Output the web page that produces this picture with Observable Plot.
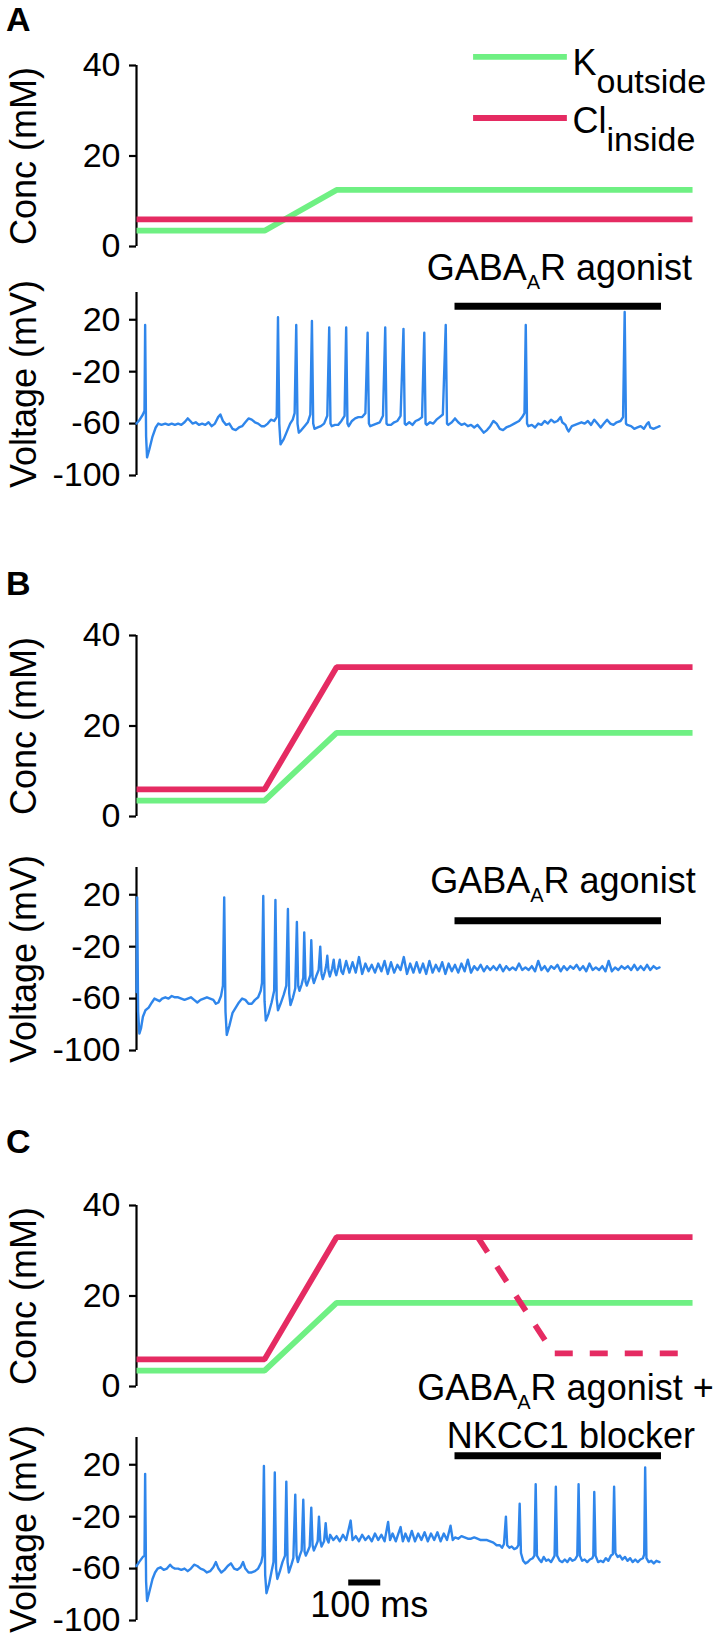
<!DOCTYPE html>
<html>
<head>
<meta charset="utf-8">
<script src="https://cdn.jsdelivr.net/npm/d3@7"></script>
<script src="https://cdn.jsdelivr.net/npm/@observablehq/plot@0.6"></script>
<style>
  html, body { margin: 0; padding: 0; background: #fff; }
  #fig { position: relative; width: 720px; height: 1638px; overflow: hidden; background: #fff; }
  #fig .panel { position: absolute; left: 0; }
  #fig svg { overflow: visible; }
  #fig g[aria-label^="y-axis"] * { stroke-width: 2.2px; }
</style>
</head>
<body>
<div id="fig"></div>
<script>
// ---------------- data ----------------
const timeDomain = [0, 1740];            // ms
const concTicks = [0, 20, 40];
const voltTicks = [-100, -60, -20, 20];

const concTimes = [0, 400, 625, 1737];
const kA  = [3.5, 3.5, 12.5, 12.5];
const clA = [6, 6, 6, 6];
const kB  = [3.5, 3.5, 18.5, 18.5];
const clB = [6, 6, 33, 33];
const kC  = [3.5, 3.5, 18.5, 18.5];
const clC = [6, 6, 33, 33];
const clBlockTimes = [1066, 1303, 1706];
const clBlock = [33, 7.3, 7.3];

const drugBar = [995, 1640];             // ms
const drugBarLevel = [30.5, 0, 27];      // mV, panels A B C
const scaleBarMs = [663, 763];

const legendNames = ["K~outside~", "Cl~inside~"];
const drugLabels = ["GABA~A~R agonist", "GABA~A~R agonist", "GABA~A~R agonist +", "NKCC1 blocker"];

const traceA = [
[0,-60],[10,-57],[20,-53],[25,-50],[27,16],[30,-70],[33,-86],[40,-80],[50,-70],[60,-63],[68,-60],[78,-61],[90,-60],[100,-61],[110,-60],[120,-61],[130,-60],[140,-61],[150,-59],[160,-56],[168,-58],[175,-60],[185,-59],[195,-61],[205,-60],[215,-61],[225,-59],[235,-62],[245,-60],[255,-55],[262,-53],[270,-58],[280,-61],[290,-60],[300,-64],[310,-65],[320,-63],[330,-62],[340,-59],[350,-56],[360,-57],[370,-59],[380,-60],[390,-62],[400,-62],[410,-60],[420,-57],[430,-58],[438,-55],[442,22],[446,-60],[450,-76],[460,-72],[470,-66],[480,-60],[488,-57],[494,-52],[499,16],[503,-60],[507,-67],[515,-65],[525,-62],[535,-59],[543,-53],[548,19],[552,-60],[556,-64],[566,-63],[576,-62],[586,-60],[596,-54],[602,14],[606,-60],[610,-62],[620,-61],[630,-61],[640,-58],[650,-54],[655,14],[659,-60],[663,-62],[673,-58],[683,-56],[693,-55],[705,-55],[715,-52],[722,10],[726,-60],[730,-62],[740,-61],[750,-60],[760,-59],[770,-54],[777,14],[781,-60],[785,-61],[795,-61],[805,-59],[815,-58],[825,-54],[834,13],[838,-60],[842,-61],[852,-59],[862,-61],[872,-58],[882,-57],[892,-55],[899,10],[903,-60],[907,-61],[917,-59],[927,-60],[937,-57],[947,-55],[957,-53],[966,16],[970,-60],[974,-61],[985,-59],[995,-56],[1005,-59],[1015,-61],[1025,-60],[1035,-62],[1045,-61],[1055,-63],[1065,-61],[1075,-64],[1085,-67],[1095,-65],[1105,-62],[1115,-58],[1125,-60],[1135,-64],[1145,-65],[1155,-63],[1165,-62],[1180,-60],[1195,-58],[1205,-55],[1212,-52],[1216,16],[1220,-60],[1224,-62],[1235,-61],[1245,-63],[1255,-60],[1265,-61],[1275,-58],[1285,-60],[1295,-57],[1305,-59],[1315,-58],[1325,-55],[1330,-59],[1340,-61],[1345,-64],[1350,-66],[1360,-62],[1370,-61],[1380,-60],[1390,-59],[1400,-60],[1410,-58],[1420,-61],[1430,-57],[1440,-60],[1450,-63],[1460,-60],[1470,-57],[1480,-60],[1490,-61],[1500,-59],[1512,-58],[1520,-55],[1525,26],[1529,-60],[1533,-61],[1545,-62],[1555,-64],[1565,-63],[1575,-62],[1585,-64],[1595,-60],[1600,-59],[1605,-63],[1615,-64],[1625,-63],[1634,-62]
];

const traceB = [
[0,-55],[2,18],[5,-70],[9,-87],[14,-83],[20,-74],[28,-69],[38,-67],[48,-63],[56,-60],[64,-61],[72,-62],[80,-60],[90,-59],[100,-60],[110,-58],[120,-59],[130,-59],[140,-60],[150,-61],[160,-60],[170,-59],[180,-61],[190,-63],[200,-61],[210,-60],[220,-59],[230,-60],[240,-61],[248,-64],[256,-63],[264,-58],[270,-50],[274,18],[278,-70],[282,-88],[290,-81],[300,-71],[310,-67],[320,-63],[330,-60],[340,-61],[350,-64],[360,-64],[370,-61],[380,-59],[388,-54],[392,-48],[396,19],[400,-62],[404,-77],[412,-72],[422,-63],[430,-54],[434,16],[438,-60],[442,-69],[450,-64],[460,-57],[468,-50],[473,9],[477,-56],[481,-65],[489,-59],[496,-52],[501,-1],[505,-50],[509,-54],[516,-49],[521,-44],[524,-9],[528,-47],[532,-50],[539,-45],[543,-42],[546,-15],[550,-44],[554,-48],[561,-43],[569,-38],[574,-20],[578,-41],[582,-45],[589,-39],[593,-34],[596,-27],[600,-39],[604,-43],[611,-37],[616,-30],[620,-39],[624,-42],[630,-36],[635,-30],[640,-39],[645,-41],
[655,-31],[665,-40],[675,-32],[685,-40],[695,-28],[705,-41],[715,-33],[725,-39],[735,-34],[745,-40],[755,-33],[765,-39],[775,-31],[785,-41],[795,-32],[805,-40],[815,-34],[825,-38],[835,-28],[845,-41],[855,-33],[865,-40],[875,-32],[885,-40],[895,-33],[905,-41],[915,-31],[925,-40],[935,-34],[945,-39],[955,-32],[965,-41],[975,-33],[985,-39],[995,-34],[1005,-40],[1015,-33],[1025,-39],[1035,-30],[1045,-40],[1055,-35],[1065,-38],[1075,-34],[1085,-39],[1095,-35],[1105,-38],[1115,-35],[1125,-38],[1135,-34],[1145,-39],[1155,-35],[1165,-38],[1175,-36],[1185,-38],[1195,-33],[1205,-38],[1215,-36],[1225,-38],[1235,-35],[1245,-39],[1255,-31],[1265,-38],[1275,-35],[1285,-39],[1295,-35],[1305,-37],[1315,-34],[1325,-39],[1335,-35],[1345,-38],[1355,-35],[1365,-37],[1375,-34],[1385,-38],[1395,-35],[1405,-39],[1415,-33],[1425,-38],[1435,-36],[1445,-38],[1455,-35],[1465,-39],[1475,-31],[1485,-39],[1495,-36],[1505,-38],[1515,-35],[1525,-37],[1535,-35],[1545,-38],[1555,-34],[1565,-38],[1575,-35],[1585,-38],[1595,-34],[1605,-38],[1615,-35],[1625,-37],[1634,-36]
];

const traceC = [
[0,-58],[8,-55],[20,-51],[25,-50],[27,13],[30,-70],[33,-85],[40,-78],[50,-68],[58,-63],[66,-60],[75,-59],[85,-61],[95,-60],[105,-57],[112,-59],[120,-60],[130,-60],[140,-61],[150,-60],[160,-62],[170,-60],[180,-57],[190,-58],[200,-60],[210,-61],[220,-63],[230,-62],[240,-59],[248,-55],[256,-60],[265,-63],[275,-61],[285,-58],[295,-56],[305,-60],[315,-61],[325,-59],[333,-55],[340,-60],[350,-63],[360,-63],[370,-62],[380,-60],[390,-55],[394,-50],[398,19],[402,-65],[406,-79],[414,-72],[422,-62],[428,-55],[432,14],[436,-60],[440,-68],[448,-62],[456,-55],[464,-50],[468,7],[472,-55],[476,-63],[484,-57],[490,-52],[496,-3],[500,-50],[504,-55],[510,-50],[516,-46],[521,-7],[525,-47],[529,-50],[536,-46],[541,-43],[546,-13],[550,-42],[554,-46],[561,-42],[566,-39],[570,-20],[574,-38],[578,-43],[586,-39],[591,-25],[595,-37],[600,-40],
[605,-34],[615,-38],[625,-35],[635,-39],[645,-34],[655,-38],[669,-23],[675,-38],[685,-35],[695,-39],[705,-34],[715,-38],[725,-35],[735,-39],[745,-33],[755,-38],[765,-34],[775,-39],[786,-24],[792,-38],[800,-33],[810,-39],[818,-33],[825,-28],[832,-39],[840,-33],[850,-39],[860,-31],[870,-39],[880,-33],[890,-38],[900,-32],[910,-39],[920,-33],[930,-38],[940,-32],[950,-39],[960,-33],[970,-38],[981,-27],[988,-38],[995,-36],[1005,-37],[1015,-35],[1025,-36],[1035,-37],[1045,-37],[1055,-36],[1065,-37],[1075,-38],[1085,-38],[1095,-38],[1105,-39],[1115,-40],[1125,-42],[1135,-42],[1142,-44],[1148,-41],[1154,-20],[1158,-42],[1165,-44],[1172,-43],[1180,-45],[1188,-44],[1193,-42],[1197,-10],[1201,-48],[1208,-54],[1215,-56],[1222,-55],[1230,-53],[1238,-52],[1243,-50],[1247,5],[1251,-50],[1258,-53],[1265,-55],[1272,-51],[1280,-54],[1287,-53],[1295,-55],[1302,-52],[1306,-50],[1310,3],[1314,-50],[1322,-54],[1330,-55],[1338,-53],[1346,-55],[1354,-52],[1362,-54],[1370,-53],[1377,-50],[1381,5],[1385,-50],[1392,-54],[1400,-53],[1408,-55],[1416,-53],[1424,-52],[1427,-50],[1430,-1],[1434,-50],[1442,-55],[1450,-54],[1458,-55],[1466,-52],[1474,-54],[1482,-50],[1488,-49],[1492,3],[1496,-48],[1503,-51],[1510,-50],[1518,-53],[1526,-51],[1534,-54],[1542,-52],[1550,-55],[1558,-53],[1566,-55],[1574,-53],[1582,-52],[1586,-49],[1589,18],[1593,-52],[1600,-55],[1608,-54],[1616,-56],[1624,-54],[1634,-55]
];

// ---------------- drawing ----------------
const FONT = '"Liberation Sans", Arial, Helvetica, sans-serif';
const GREEN = "#6ff083", RED = "#e52b62", BLUE = "#2f86eb";
const fig = document.getElementById("fig");
const series = (ts, vs) => ts.map((t, i) => ({t, v: vs[i]}));
const baseStyle = {fontFamily: FONT, fontSize: "34px", color: "black", background: "transparent", overflow: "visible"};

function subscriptify(svg, size, shift) {
  svg.querySelectorAll("text").forEach(t => {
    const s = t.textContent;
    if (!s.includes("~")) return;
    const parts = s.split("~");
    t.textContent = "";
    parts.forEach((p, i) => {
      if (p === "" && i === parts.length - 1) return;
      const ts = document.createElementNS("http://www.w3.org/2000/svg", "tspan");
      ts.textContent = p;
      if (i % 2 === 1) { ts.setAttribute("dy", shift); ts.setAttribute("font-size", size); }
      else if (i > 0) ts.setAttribute("dy", -shift);
      t.appendChild(ts);
    });
  });
}

function place(svg, top, sub) {
  const d = document.createElement("div");
  d.className = "panel";
  d.style.top = top + "px";
  d.appendChild(svg);
  fig.appendChild(d);
  if (sub) subscriptify(svg, sub[0], sub[1]);
}

const lineOpts = {x: "t", y: "v", strokeWidth: 5.8, strokeLinecap: "butt", strokeLinejoin: "miter"};
const yLabel = (s) => Plot.text([s], {frameAnchor: "left", textAnchor: "middle", lineAnchor: "middle", dx: -112, rotate: -90, fontSize: 36});

function concPlot(k, cl, extra) {
  return Plot.plot({
    width: 720, height: 281, marginLeft: 136, marginRight: 27, marginTop: 80, marginBottom: 20,
    style: baseStyle,
    x: {domain: timeDomain, axis: null},
    y: {domain: [0, 40], ticks: concTicks, tickSize: 7, tickPadding: 9, tickFormat: d => String(d), label: null},
    marks: [
      Plot.ruleX([0], {y1: 0, y2: 40, strokeWidth: 2.2}),
      yLabel("Conc (mM)"),
      Plot.line(series(concTimes, k), {...lineOpts, stroke: GREEN}),
      Plot.line(series(concTimes, cl), {...lineOpts, stroke: RED}),
      ...extra
    ]
  });
}

function voltPlot(trace, barLevel, extra) {
  return Plot.plot({
    width: 720, height: 323, marginLeft: 136, marginRight: 27, marginTop: 110, marginBottom: 30,
    style: baseStyle,
    x: {domain: timeDomain, axis: null},
    y: {domain: [-100, 41], ticks: voltTicks, tickSize: 7, tickPadding: 9, tickFormat: d => String(d), label: null},
    marks: [
      Plot.ruleX([0], {y1: -100, y2: 41, strokeWidth: 2.2}),
      yLabel("Voltage (mV)"),
      Plot.line(trace, {x: d => d[0], y: d => d[1], stroke: BLUE, strokeWidth: 2.4, strokeLinejoin: "round"}),
      Plot.ruleY([barLevel], {x1: drugBar[0], x2: drugBar[1], strokeWidth: 7}),
      ...extra
    ]
  });
}

// Panel A
place(concPlot(kA, clA, [
  Plot.ruleY([41.9], {x1: 1053, x2: 1346, stroke: GREEN, strokeWidth: 5.8}),
  Plot.ruleY([28.4], {x1: 1053, x2: 1346, stroke: RED, strokeWidth: 5.8}),
  Plot.text([legendNames[0]], {x: 1362, y: 37.9, textAnchor: "start", lineAnchor: "bottom", fontSize: 36}),
  Plot.text([legendNames[1]], {x: 1362, y: 25.0, textAnchor: "start", lineAnchor: "bottom", fontSize: 36})
]), -14.6, [34, 18]);

place(voltPlot(traceA, drugBarLevel[0], [
  Plot.text([drugLabels[0]], {x: 1321, y: 50.5, lineAnchor: "bottom", fontSize: 36})
]), 182.3, [20, 9]);

// Panel B
place(concPlot(kB, clB, []), 555, null);
place(voltPlot(traceB, drugBarLevel[1], [
  Plot.text([drugLabels[1]], {x: 1332, y: 21.5, lineAnchor: "bottom", fontSize: 36})
]), 756.8, [20, 9]);

// Panel C
place(concPlot(kC, clC, [
  Plot.line(series(clBlockTimes, clBlock), {...lineOpts, stroke: RED, strokeDasharray: "18,17"})
]), 1125, null);
place(voltPlot(traceC, drugBarLevel[2], [
  Plot.text([drugLabels[2]], {x: 1340, y: 69.8, lineAnchor: "bottom", fontSize: 36}),
  Plot.text([drugLabels[3]], {x: 1357, y: 32.7, lineAnchor: "bottom", fontSize: 36}),
  Plot.ruleY([-70.8], {x1: scaleBarMs[0], x2: scaleBarMs[1], strokeWidth: 6}),
  Plot.text(["100 ms"], {x: 727, y: -97, lineAnchor: "bottom", fontSize: 36})
]), 1326.5, [20, 9]);

// Panel letters
const ov = d3.create("svg").attr("width", 720).attr("height", 1638)
  .style("position", "absolute").style("left", "0px").style("top", "0px").style("overflow", "visible");
[["A", 31], ["B", 595], ["C", 1153]].forEach(([s, y]) => {
  ov.append("text").attr("x", 6).attr("y", y).attr("font-family", FONT)
    .attr("font-weight", "bold").attr("font-size", 34).text(s);
});
fig.appendChild(ov.node());
</script>
</body>
</html>
